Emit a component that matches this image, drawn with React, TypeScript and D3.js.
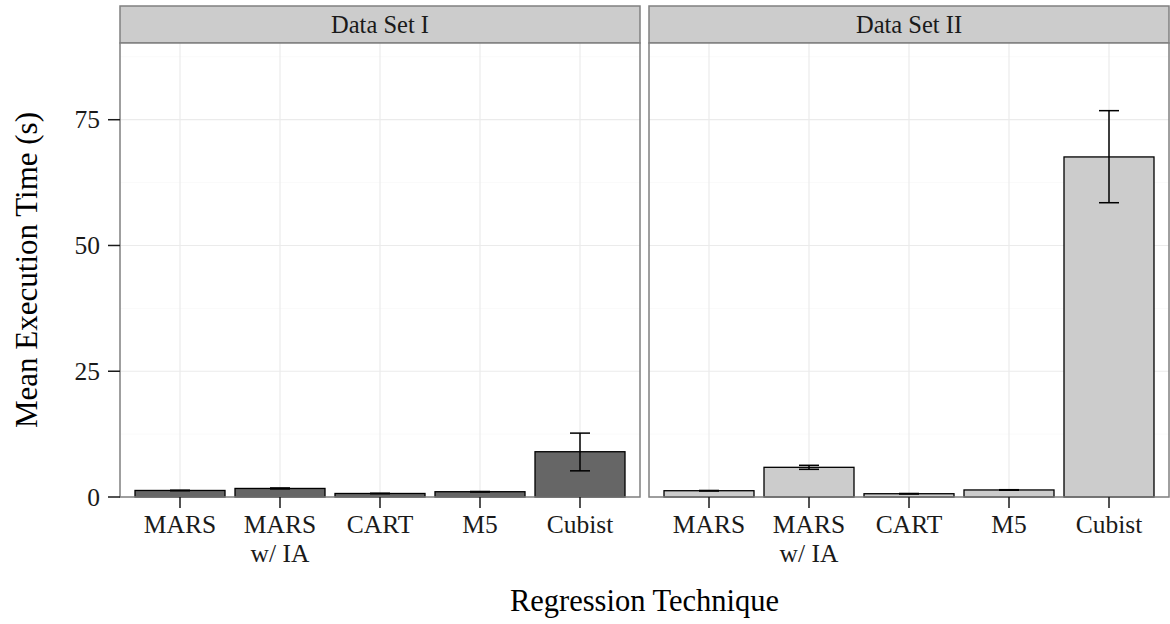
import * as d3 from 'd3';

const WIDTH = 1170;
const HEIGHT = 624;

const PANEL_TOP = 43;
const PANEL_BOTTOM = 497;
const STRIP_TOP = 6;
const PANEL_W = 520;
const PANEL_LEFTS = [120, 649];

// categories (two-line labels split on \n)
const techniques = ['MARS', 'MARS\nw/ IA', 'CART', 'M5', 'Cubist'];
const dataSets = ['Data Set I', 'Data Set II'];

// mean execution time (s) and error bar limits, one array per data set
const meanSet1 = [1.3, 1.7, 0.7, 1.05, 9.0];
const lowSet1 = [1.25, 1.6, 0.65, 1.0, 5.2];
const highSet1 = [1.35, 1.8, 0.75, 1.1, 12.7];

const meanSet2 = [1.25, 5.9, 0.65, 1.4, 67.6];
const lowSet2 = [1.2, 5.5, 0.6, 1.35, 58.5];
const highSet2 = [1.3, 6.3, 0.7, 1.45, 76.8];

const yTicks = [0, 25, 50, 75];
const yMinor = [12.5, 37.5, 62.5, 87.5];

const panels = [
  { name: dataSets[0], mean: meanSet1, low: lowSet1, high: highSet1, fill: '#666666' },
  { name: dataSets[1], mean: meanSet2, low: lowSet2, high: highSet2, fill: '#cccccc' },
];

const FONT = '"Liberation Serif", "Times New Roman", serif';

const yScale = d3.scaleLinear().domain([0, 90.25]).range([PANEL_BOTTOM, PANEL_TOP]);

const Panel = ({ p, left }) => {
  const x = d3.scalePoint().domain(techniques).range([left, left + PANEL_W]).padding(0.6);
  const step = x.step();
  const barW = step * 0.9;
  const whisker = step * 0.2;

  return (
    <g>
      {/* strip */}
      <rect x={left} y={STRIP_TOP} width={PANEL_W} height={PANEL_TOP - STRIP_TOP} fill="#cccccc" stroke="#808080" strokeWidth={1.5} />
      <text x={left + PANEL_W / 2} y={33} textAnchor="middle" fontSize={24.5} fill="#1a1a1a">
        {p.name}
      </text>

      {/* panel background and grid */}
      <rect x={left} y={PANEL_TOP} width={PANEL_W} height={PANEL_BOTTOM - PANEL_TOP} fill="#ffffff" />
      {yMinor.map((t) => (
        <line key={'mn' + t} x1={left} x2={left + PANEL_W} y1={yScale(t)} y2={yScale(t)} stroke="#fafafa" strokeWidth={1} />
      ))}
      {yTicks.map((t) => (
        <line key={'mj' + t} x1={left} x2={left + PANEL_W} y1={yScale(t)} y2={yScale(t)} stroke="#ebebeb" strokeWidth={1.2} />
      ))}
      {techniques.map((c) => (
        <line key={'v' + c} x1={x(c)} x2={x(c)} y1={PANEL_TOP} y2={PANEL_BOTTOM} stroke="#ebebeb" strokeWidth={1.2} />
      ))}

      {/* bars */}
      {techniques.map((c, i) => (
        <rect
          key={'b' + c}
          x={x(c) - barW / 2}
          y={yScale(p.mean[i])}
          width={barW}
          height={yScale(0) - yScale(p.mean[i])}
          fill={p.fill}
          stroke="#000000"
          strokeWidth={1.3}
        />
      ))}

      {/* error bars */}
      {techniques.map((c, i) => (
        <g key={'e' + c} stroke="#000000" strokeWidth={1.5}>
          <line x1={x(c)} x2={x(c)} y1={yScale(p.low[i])} y2={yScale(p.high[i])} />
          <line x1={x(c) - whisker / 2} x2={x(c) + whisker / 2} y1={yScale(p.low[i])} y2={yScale(p.low[i])} />
          <line x1={x(c) - whisker / 2} x2={x(c) + whisker / 2} y1={yScale(p.high[i])} y2={yScale(p.high[i])} />
        </g>
      ))}

      {/* panel border */}
      <rect x={left} y={PANEL_TOP} width={PANEL_W} height={PANEL_BOTTOM - PANEL_TOP} fill="none" stroke="#808080" strokeWidth={1.5} />

      {/* x ticks and labels */}
      {techniques.map((c) => (
        <g key={'xt' + c}>
          <line x1={x(c)} x2={x(c)} y1={PANEL_BOTTOM} y2={PANEL_BOTTOM + 11} stroke="#1a1a1a" strokeWidth={1.5} />
          <text x={x(c)} y={533} textAnchor="middle" fontSize={25.5} fill="#1a1a1a">
            {c.split('\n').map((line, k) => (
              <tspan key={k} x={x(c)} dy={k === 0 ? 0 : 28.5}>
                {line}
              </tspan>
            ))}
          </text>
        </g>
      ))}
    </g>
  );
};

export default function App() {
  return (
    <svg
      width={WIDTH}
      height={HEIGHT}
      style={{ position: 'absolute', left: 0, top: 0, background: '#ffffff' }}
      fontFamily={FONT}
    >
      <rect x={0} y={0} width={WIDTH} height={HEIGHT} fill="#ffffff" />
      {panels.map((p, i) => (
        <Panel key={p.name} p={p} left={PANEL_LEFTS[i]} />
      ))}

      {/* y axis */}
      {yTicks.map((t) => (
        <g key={'yt' + t}>
          <line x1={108} x2={120} y1={yScale(t)} y2={yScale(t)} stroke="#1a1a1a" strokeWidth={1.5} />
          <text x={100} y={yScale(t)} dy="0.34em" textAnchor="end" fontSize={25.5} fill="#1a1a1a">
            {t}
          </text>
        </g>
      ))}

      <text
        transform={`translate(37, ${(PANEL_TOP + PANEL_BOTTOM) / 2}) rotate(-90)`}
        textAnchor="middle"
        fontSize={31}
        fill="#000000"
      >
        Mean Execution Time (s)
      </text>
      <text x={(PANEL_LEFTS[0] + PANEL_LEFTS[1] + PANEL_W) / 2} y={611} textAnchor="middle" fontSize={30.5} fill="#000000">
        Regression Technique
      </text>
    </svg>
  );
}
